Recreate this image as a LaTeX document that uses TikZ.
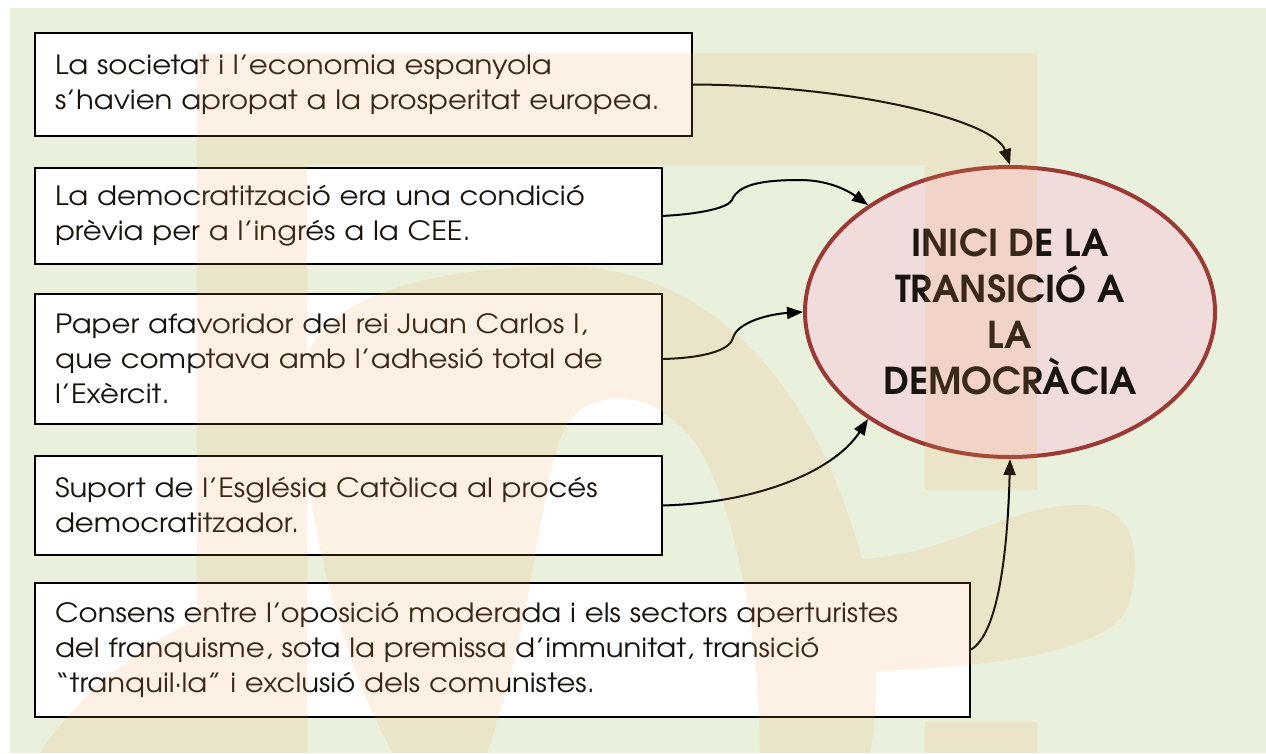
\documentclass[tikz,border=0pt]{standalone}
\usepackage{fontspec}
\setmainfont{texgyreadventor}[Extension=.otf,UprightFont=*-regular,BoldFont=*-bold,ItalicFont=*-italic,BoldItalicFont=*-bolditalic]
\newfontfamily\boxfont{texgyreadventor}[Extension=.otf,UprightFont=*-regular,FakeStretch=1.1]
\usetikzlibrary{arrows.meta,shapes.geometric}
\definecolor{bggreen}{RGB}{233,240,220}
\definecolor{wmorange}{RGB}{242,161,86}
\definecolor{ellfill}{RGB}{241,220,220}
\definecolor{elldraw}{RGB}{155,58,53}
\definecolor{txt}{RGB}{26,20,14}
\begin{document}
\begin{tikzpicture}[x=1pt,y=-1pt,
  box/.style={draw=black, line width=1.8pt, fill=white, rectangle, inner xsep=20pt, inner ysep=0pt,
    align=left, outer sep=0pt, font=\boxfont\fontsize{26.5}{35}\selectfont, text=txt},
  conn/.style={line width=2pt, -{Triangle[length=16pt,width=12pt]}, black},
  wm/.style={fill=wmorange, fill opacity=0.15}]
\useasboundingbox (0,0) rectangle (1266,753);
\fill[white] (0,0) rectangle (1266,753);
\fill[bggreen] (10,8) rectangle (1266,753);

% boxes
\node[box, text width=617pt, minimum height=103pt] (b1) at (363.5,84.5)
  {La societat i l’economia espanyola\\s’havien apropat a la prosperitat europea.};
\node[box, text width=587pt, minimum height=96pt] (b2) at (348.5,216)
  {La democratització era una condició\\prèvia per a l’ingrés a la CEE.};
\node[box, text width=587pt, minimum height=130pt] (b3) at (348.5,359)
  {Paper afavoridor del rei Juan Carlos I,\\que comptava amb l’adhesió total de\\l’Exèrcit.};
\node[box, text width=587pt, minimum height=99pt] (b4) at (348.5,505.5)
  {Suport de l’Església Catòlica al procés\\democratitzador.};
\node[box, text width=895pt, minimum height=134pt] (b5) at (502.5,650)
  {Consens entre l’oposició moderada i els sectors aperturistes\\del franquisme, sota la premissa d’immunitat, transició\\“tranquil·la” i exclusió dels comunistes.};

% ellipse
\node[ellipse, draw=elldraw, line width=4pt, fill=ellfill, minimum width=410pt, minimum height=290pt,
  inner sep=0pt, align=center, text=txt, font=\bfseries\fontsize{37}{46}\selectfont] (ell) at (1010,312)
  {INICI DE LA\\TRANSICIÓ A\\LA\\DEMOCRÀCIA};

% connectors
\draw[conn] (b1.east) .. controls (850,85) and (995,120) .. (ell.north);
\draw[conn] (b2.east) .. controls (700,214) and (728,208) .. (732,200)
  .. controls (738,185) and (760,180) .. (800,180)
  .. controls (830,180) and (850,192) .. (ell.143.6);
\draw[conn] (b3.east) .. controls (705,358) and (730,350) .. (733,338)
  .. controls (737,322) and (770,314) .. (ell.west);
\draw[conn] (b4.east) .. controls (760,503) and (835,470) .. (ell.217);
\draw[conn] (b5.east) .. controls (1000,635) and (1008,540) .. (ell.south);

% watermark (single path, union filled once)
\fill[wm]
  (197,53) -- (1037,53) -- (1037,490) -- (925,490) -- (925,165) -- (307,165) -- (307,753) -- (197,753) -- cycle
  (925,722) -- (1037,722) -- (1037,753) -- (925,753) -- cycle
  (393,753) .. controls (330,640) and (300,480) .. (302,380)
    .. controls (305,300) and (420,268) .. (560,266)
    .. controls (700,266) and (800,370) .. (850,520)
    .. controls (880,600) and (880,700) .. (870,753)
    -- (760,753) .. controls (760,650) and (740,520) .. (700,450)
    .. controls (660,390) and (600,385) .. (570,420)
    .. controls (540,460) and (540,600) .. (487,753) -- cycle
  (840,560) .. controls (950,560) and (1000,505) .. (1080,505)
    .. controls (1140,505) and (1140,560) .. (1130,600)
    .. controls (1120,650) and (1000,665) .. (900,670)
    .. controls (870,672) and (850,675) .. (840,680) -- cycle
  (40,753) .. controls (80,690) and (150,640) .. (197,620) -- (197,753) -- cycle;
\end{tikzpicture}
\end{document}
